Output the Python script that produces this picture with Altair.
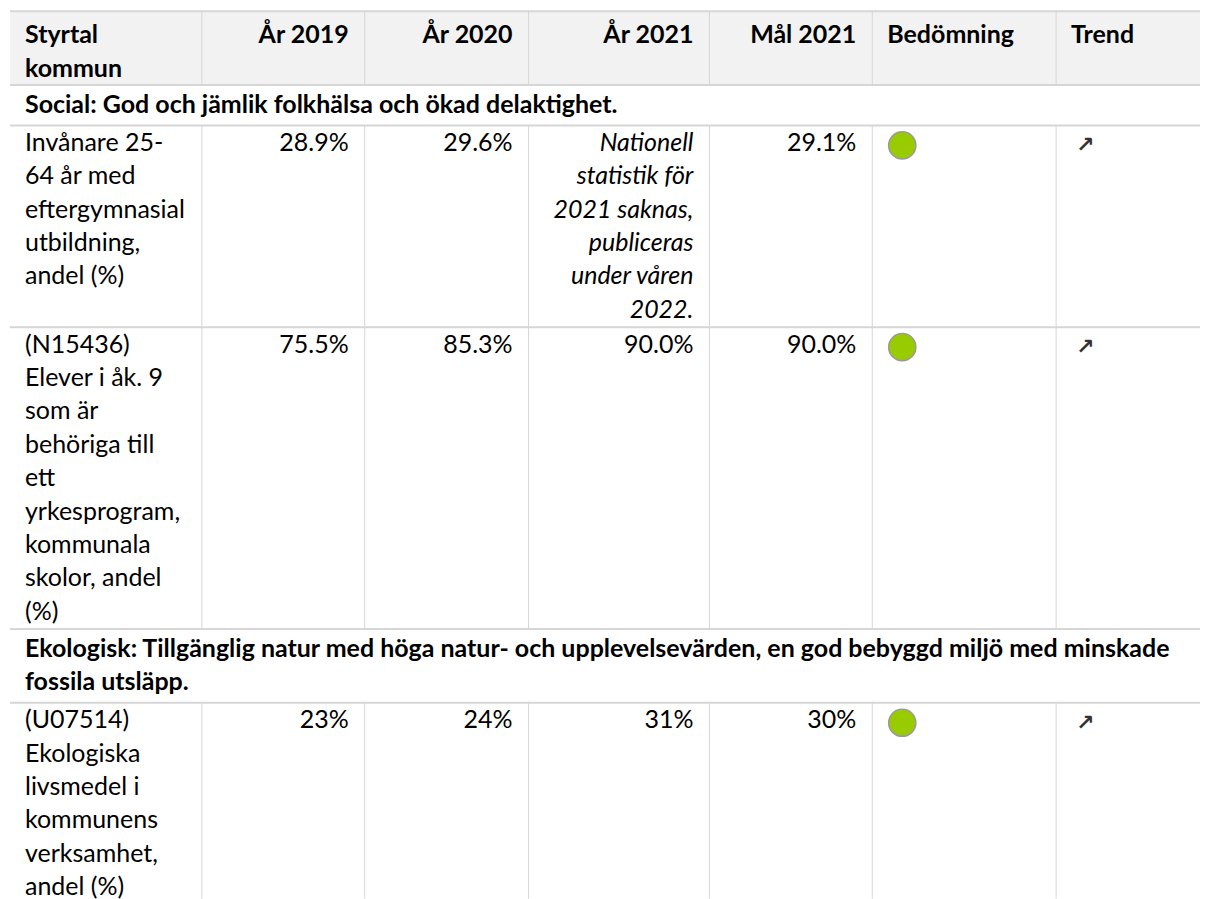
import altair as alt
import pandas as pd

# ---------------- content ----------------
header_labels = [["Styrtal", "kommun"], ["År 2019"], ["År 2020"], ["År 2021"],
                 ["Mål 2021"], ["Bedömning"], ["Trend"]]
header_align = ["left", "right", "right", "right", "right", "left", "left"]

section_titles = [
    ["Social: God och jämlik folkhälsa och ökad delaktighet."],
    ["Ekologisk: Tillgänglig natur med höga natur- och upplevelsevärden, en god bebyggd miljö med minskade",
     "fossila utsläpp."],
]

indicator_lines = [
    ["Invånare 25-", "64 år med", "eftergymnasial", "utbildning,", "andel (%)"],
    ["(N15436)", "Elever i åk. 9", "som är", "behöriga till", "ett", "yrkesprogram,",
     "kommunala", "skolor,  andel", "(%)"],
    ["(U07514)", "Ekologiska", "livsmedel i", "kommunens", "verksamhet,", "andel (%)"],
]
indicator_section = [0, 0, 1]
values_2019 = ["28.9%", "75.5%", "23%"]
values_2020 = ["29.6%", "85.3%", "24%"]
values_2021 = ["", "90.0%", "31%"]
notes_2021 = [["Nationell", "statistik för", "2021 saknas,", "publiceras", "under våren", "2022."], [], []]
goal_2021 = ["29.1%", "90.0%", "30%"]
assessment = ["#99cc00", "#99cc00", "#99cc00"]
trend = ["↗", "↗", "↗"]

# ---------------- layout (page pixels) ----------------
W, H = 1193, 891
OX, OY = 8, 8
col_edges = [10, 202, 365, 529, 710, 873, 1057, OX + W]
PADL, PADR = 15, 16
LINE = 33.4
FS = 25
font = "Lato"

rows = [("header", None)]
for s in range(len(section_titles)):
    rows.append(("section", s))
    for i, sec in enumerate(indicator_section):
        if sec == s:
            rows.append(("data", i))

pads = {"header": (7, 0), "section": (3, 4), "data": (1.5, 0)}
first_off = {"header": 17, "section": 17, "data": 16}


def nlines(kind, idx):
    if kind == "header":
        return max(len(h) for h in header_labels)
    if kind == "section":
        return len(section_titles[idx])
    return max(len(indicator_lines[idx]), len(notes_2021[idx]), 1)


texts = []
hlines = []
vlines = []
bg = []
circles = []
arrows = []

top = 11
for kind, idx in rows:
    pt, pb = pads[kind]
    n = nlines(kind, idx)
    bottom = top + pt + n * LINE + pb
    hlines.append({"x": col_edges[0], "x2": col_edges[-1], "y": top})
    first = top + pt + first_off[kind]
    if kind == "header":
        bg.append({"x": col_edges[0], "x2": col_edges[-1], "y": top, "y2": bottom})
        for c, lab in enumerate(header_labels):
            for k, t in enumerate(lab):
                if header_align[c] == "left":
                    x, st = col_edges[c] + PADL, "bold_left"
                else:
                    x, st = col_edges[c + 1] - PADR, "bold_right"
                texts.append({"x": x, "y": first + k * LINE, "text": t, "style": st})
    elif kind == "section":
        for k, t in enumerate(section_titles[idx]):
            texts.append({"x": col_edges[0] + PADL, "y": first + k * LINE, "text": t, "style": "bold_left"})
    else:
        for k, t in enumerate(indicator_lines[idx]):
            texts.append({"x": col_edges[0] + PADL, "y": first + k * LINE, "text": t, "style": "left"})
        for c, vals in zip([1, 2, 3, 4], [values_2019, values_2020, values_2021, goal_2021]):
            if vals[idx]:
                texts.append({"x": col_edges[c + 1] - PADR, "y": first, "text": vals[idx], "style": "right"})
        for k, t in enumerate(notes_2021[idx]):
            texts.append({"x": col_edges[4] - PADR, "y": first + k * LINE, "text": t, "style": "italic_right"})
        circles.append({"x": col_edges[5] + 30, "y": top + 20, "c": assessment[idx]})
        arrows.append({"x": col_edges[6] + 29, "y": top + 20, "text": trend[idx]})
    if kind != "section":
        last = (kind, idx) == rows[-1]
        for e in col_edges[1:-1]:
            vlines.append({"x": e, "y": top, "y2": OY + H if last else bottom})
    top = bottom


def rel(df):
    df = pd.DataFrame(df)
    for c in ["x", "x2"]:
        if c in df:
            df[c] = df[c] - OX
    for c in ["y", "y2"]:
        if c in df:
            df[c] = df[c] - OY
    return df


xs = alt.Scale(domain=[0, W], nice=False, zero=False)
ys = alt.Scale(domain=[0, H], nice=False, zero=False, reverse=True)


def X(f="x"):
    return alt.X(f"{f}:Q", scale=xs, axis=None)


def Y(f="y"):
    return alt.Y(f"{f}:Q", scale=ys, axis=None)


tdf = rel(texts)
layers = []
layers.append(alt.Chart(rel(bg)).mark_rect(color="#f2f2f2").encode(
    x=X(), x2="x2:Q", y=Y(), y2="y2:Q"))
layers.append(alt.Chart(rel(hlines)).mark_rule(color="#d6d6d6", strokeWidth=2).encode(
    x=X(), x2="x2:Q", y=Y()))
layers.append(alt.Chart(rel(vlines)).mark_rule(color="#d6d6d6", strokeWidth=1).encode(
    x=X(), y=Y(), y2="y2:Q"))

styles = {
    "left": dict(align="left", fontWeight="normal", fontStyle="normal"),
    "right": dict(align="right", fontWeight="normal", fontStyle="normal"),
    "italic_right": dict(align="right", fontWeight="normal", fontStyle="italic"),
    "bold_left": dict(align="left", fontWeight="bold", fontStyle="normal"),
    "bold_right": dict(align="right", fontWeight="bold", fontStyle="normal"),
}
for name, st in styles.items():
    sub = tdf[tdf["style"] == name]
    if len(sub):
        layers.append(alt.Chart(sub).mark_text(baseline="middle", font=font, fontSize=FS,
                                               color="#000000", **st).encode(
            x=X(), y=Y(), text="text:N"))

layers.append(alt.Chart(rel(circles)).mark_circle(size=740, opacity=1, stroke="#9a9a9a",
                                                  strokeWidth=1.5).encode(
    x=X(), y=Y(), color=alt.Color("c:N", scale=None)))
layers.append(alt.Chart(rel(arrows)).mark_text(baseline="middle", align="center", font="DejaVu Sans",
                                               fontWeight="bold", fontSize=22, color="#333333").encode(
    x=X(), y=Y(), text="text:N"))

chart = alt.layer(*layers).properties(width=W, height=H, padding=0).configure_view(stroke=None)
chart.save("out.html", embed_options={"renderer": "svg", "actions": False})
